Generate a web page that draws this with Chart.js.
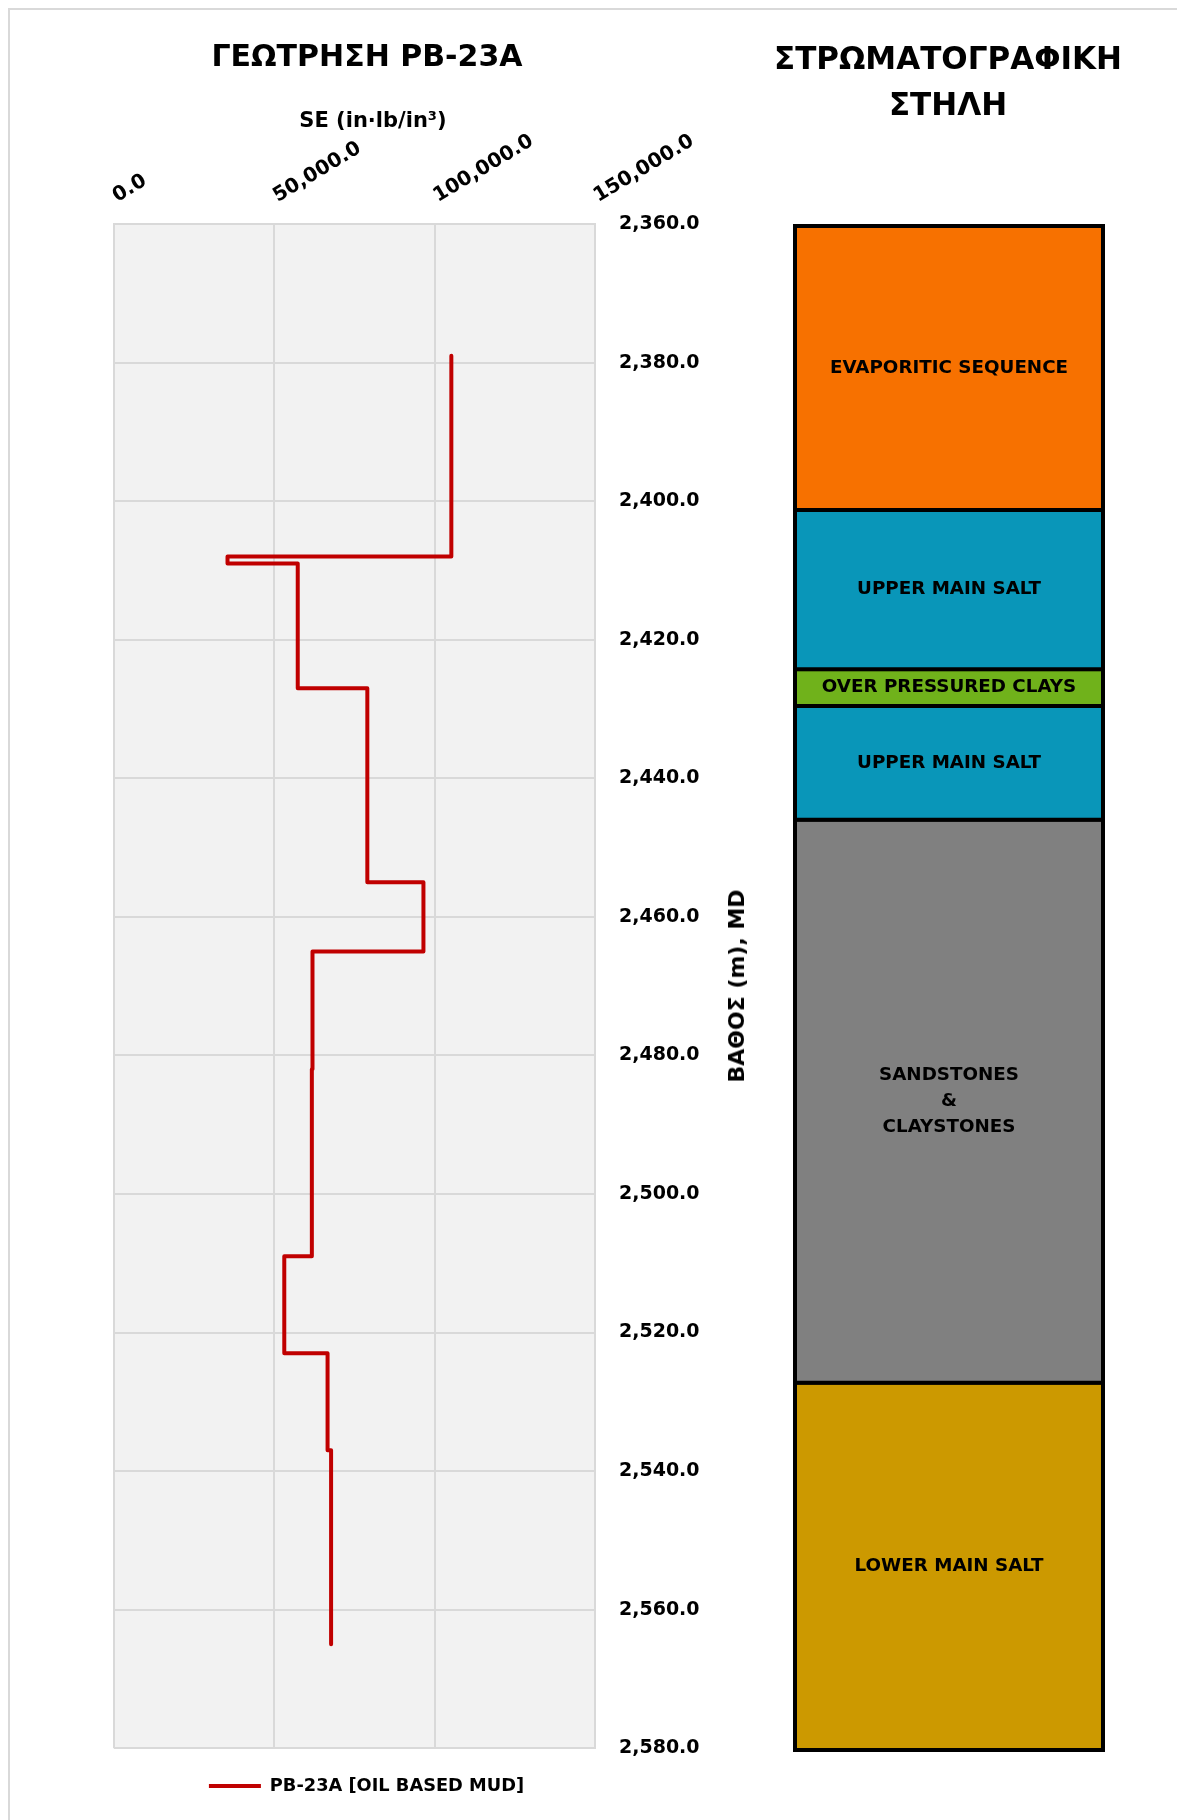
<!DOCTYPE html>
<html lang="el">
<head>
<meta charset="utf-8">
<title>ΓΕΩΤΡΗΣΗ PB-23A</title>
<script src="https://cdn.jsdelivr.net/npm/chart.js@4/dist/chart.umd.min.js"></script>
<style>
  html, body { margin: 0; padding: 0; background: #fff; }
  body { position: relative; width: 1177px; height: 1820px; overflow: hidden;
         font-family: "DejaVu Sans", sans-serif; font-weight: bold; color: #000; }
  .frame { position: absolute; left: 8px; top: 8px; width: 1200px; height: 1840px;
           border: 2px solid #D9D9D9; box-sizing: border-box; }
  .txt { position: absolute; transform: translate(-50%, -50%); white-space: nowrap;
         line-height: 1; text-align: center; }
  canvas { position: absolute; top: 0; }
</style>
</head>
<body>
<div class="frame"></div>
<canvas id="log" width="780" height="1820" style="left:0"></canvas>
<canvas id="strat" width="397" height="1820" style="left:780px"></canvas>

<div class="txt" style="left:367px; top:56px; font-size:30px;">ΓΕΩΤΡΗΣΗ PB-23A</div>
<div class="txt" style="left:373px; top:120px; font-size:21px;">SE (in·lb/in³)</div>
<div class="txt" style="left:948px; top:58px; font-size:31px;">ΣΤΡΩΜΑΤΟΓΡΑΦΙΚΗ</div>
<div class="txt" style="left:948px; top:104px; font-size:31px;">ΣΤΗΛΗ</div>
<div class="txt" style="left:737px; top:986px; font-size:22px; transform: translate(-50%, -50%) rotate(-90deg);">ΒΑΘΟΣ (m), MD</div>

<script>
// ---- Specific energy log, PB-23A (oil based mud) ----
// Each interval: top depth, base depth (m MD) and its SE value (in·lb/in³)
const intervalTop  = [2379, 2408, 2409, 2427, 2455, 2465, 2482, 2509, 2523, 2537];
const intervalBase = [2408, 2409, 2427, 2455, 2465, 2482, 2509, 2523, 2537, 2565];
const seValues     = [105200, 35400, 57300, 79000, 96500, 61900, 61700, 53100, 66600, 67700];
const seriesName   = 'PB-23A [OIL BASED MUD]';

// Axis ticks
const seTicks    = [0, 50000, 100000, 150000];
const depthTicks = [2360, 2380, 2400, 2420, 2440, 2460, 2480, 2500, 2520, 2540, 2560, 2580];

// ---- Stratigraphic column ----
const layerNames  = ['EVAPORITIC SEQUENCE', 'UPPER MAIN SALT', 'OVER PRESSURED CLAYS',
                     'UPPER MAIN SALT', 'SANDSTONES\n&\nCLAYSTONES', 'LOWER MAIN SALT'];
const layerTop    = [2360, 2401, 2424, 2429.3, 2445.7, 2527];
const layerBase   = [2401, 2424, 2429.3, 2445.7, 2527, 2580];
const layerColors = ['#F77100', '#0996B9', '#70B21B', '#0996B9', '#808080', '#CC9900'];

Chart.defaults.font.family = '"DejaVu Sans", sans-serif';
Chart.defaults.font.weight = 'bold';
Chart.defaults.color = '#000';

const fmt1 = v => Number(v).toLocaleString('en-US', { minimumFractionDigits: 1, maximumFractionDigits: 1 });

// Step profile: each interval is a vertical segment, joined by horizontal jumps
const stepPoints = [];
seValues.forEach((v, i) => {
  stepPoints.push({ x: v, y: intervalTop[i] });
  stepPoints.push({ x: v, y: intervalBase[i] });
});

const plotBackground = {
  id: 'plotBackground',
  beforeDraw(chart) {
    const { ctx, chartArea: a } = chart;
    ctx.save();
    ctx.fillStyle = '#F2F2F2';
    ctx.fillRect(a.left, a.top, a.right - a.left, a.bottom - a.top);
    ctx.restore();
  }
};

// Nudge the legend box a little to the right of the plot centre
const legendShift = {
  id: 'legendShift',
  afterLayout(chart) {
    if (chart.legend) {
      chart.legend.left += 12;
      chart.legend.right += 12;
    }
  }
};

new Chart(document.getElementById('log'), {
  type: 'scatter',
  data: {
    datasets: [{
      label: seriesName,
      data: stepPoints,
      showLine: true,
      borderColor: '#C00000',
      backgroundColor: '#C00000',
      borderWidth: 4,
      pointRadius: 0,
      pointHoverRadius: 0,
      borderJoinStyle: 'round',
      borderCapStyle: 'round',
      pointStyle: 'line'
    }]
  },
  options: {
    responsive: false,
    animation: false,
    events: [],
    layout: { padding: { left: 114, right: 65, top: 0, bottom: 15 } },
    scales: {
      x: {
        type: 'linear',
        position: 'top',
        min: seTicks[0],
        max: seTicks[seTicks.length - 1],
        afterBuildTicks: s => { s.ticks = seTicks.map(v => ({ value: v })); },
        afterFit: s => { s.height = 224; },
        grid: { color: '#D9D9D9', lineWidth: 2, drawTicks: false },
        border: { display: true, color: '#D9D9D9', width: 2 },
        ticks: {
          minRotation: 31, maxRotation: 31, padding: 16, labelOffset: 13,
          font: { size: 20, weight: 'bold' },
          callback: v => fmt1(v)
        }
      },
      y: {
        type: 'linear',
        position: 'right',
        reverse: true,
        min: depthTicks[0],
        max: depthTicks[depthTicks.length - 1],
        afterBuildTicks: s => { s.ticks = depthTicks.map(v => ({ value: v })); },
        afterFit: s => { s.width = 120; },
        grid: { color: '#D9D9D9', lineWidth: 2, drawTicks: false },
        border: { display: true, color: '#D9D9D9', width: 2 },
        ticks: {
          padding: 24,
          font: { size: 19, weight: 'bold' },
          callback: v => fmt1(v)
        }
      }
    },
    plugins: {
      legend: {
        position: 'bottom',
        fullSize: false,
        labels: {
          usePointStyle: true,
          pointStyleWidth: 52,
          padding: 29,
          color: '#000',
          font: { size: 17.8, weight: 'bold' }
        }
      },
      tooltip: { enabled: false }
    }
  },
  plugins: [plotBackground, legendShift]
});

// Layer names centred inside each bar of the column
const layerLabels = {
  id: 'layerLabels',
  afterDatasetsDraw(chart) {
    const { ctx } = chart;
    ctx.save();
    ctx.fillStyle = '#000';
    ctx.font = 'bold 18.3px "DejaVu Sans", sans-serif';
    ctx.textAlign = 'center';
    ctx.textBaseline = 'middle';
    chart.data.datasets.forEach((ds, i) => {
      const bar = chart.getDatasetMeta(i).data[0];
      const cy = (bar.y + bar.base) / 2;
      const lines = ds.label.split('\n');
      const step = 26;
      lines.forEach((ln, k) => {
        ctx.fillText(ln, bar.x, cy + (k - (lines.length - 1) / 2) * step);
      });
    });
    ctx.restore();
  }
};

new Chart(document.getElementById('strat'), {
  type: 'bar',
  data: {
    labels: ['column'],
    datasets: layerNames.map((name, i) => ({
      label: name,
      data: [[layerTop[i], layerBase[i]]],
      backgroundColor: layerColors[i],
      borderColor: '#000',
      borderWidth: 4,
      borderSkipped: false,
      inflateAmount: 2,
      grouped: false,
      barPercentage: 1,
      categoryPercentage: 1,
      clip: false
    }))
  },
  options: {
    responsive: false,
    animation: false,
    events: [],
    layout: { padding: { left: 15, right: 74, top: 226, bottom: 70 } },
    scales: {
      x: { display: false },
      y: {
        display: false,
        reverse: true,
        min: depthTicks[0],
        max: depthTicks[depthTicks.length - 1]
      }
    },
    plugins: { legend: { display: false }, tooltip: { enabled: false } }
  },
  plugins: [layerLabels]
});
</script>
</body>
</html>
